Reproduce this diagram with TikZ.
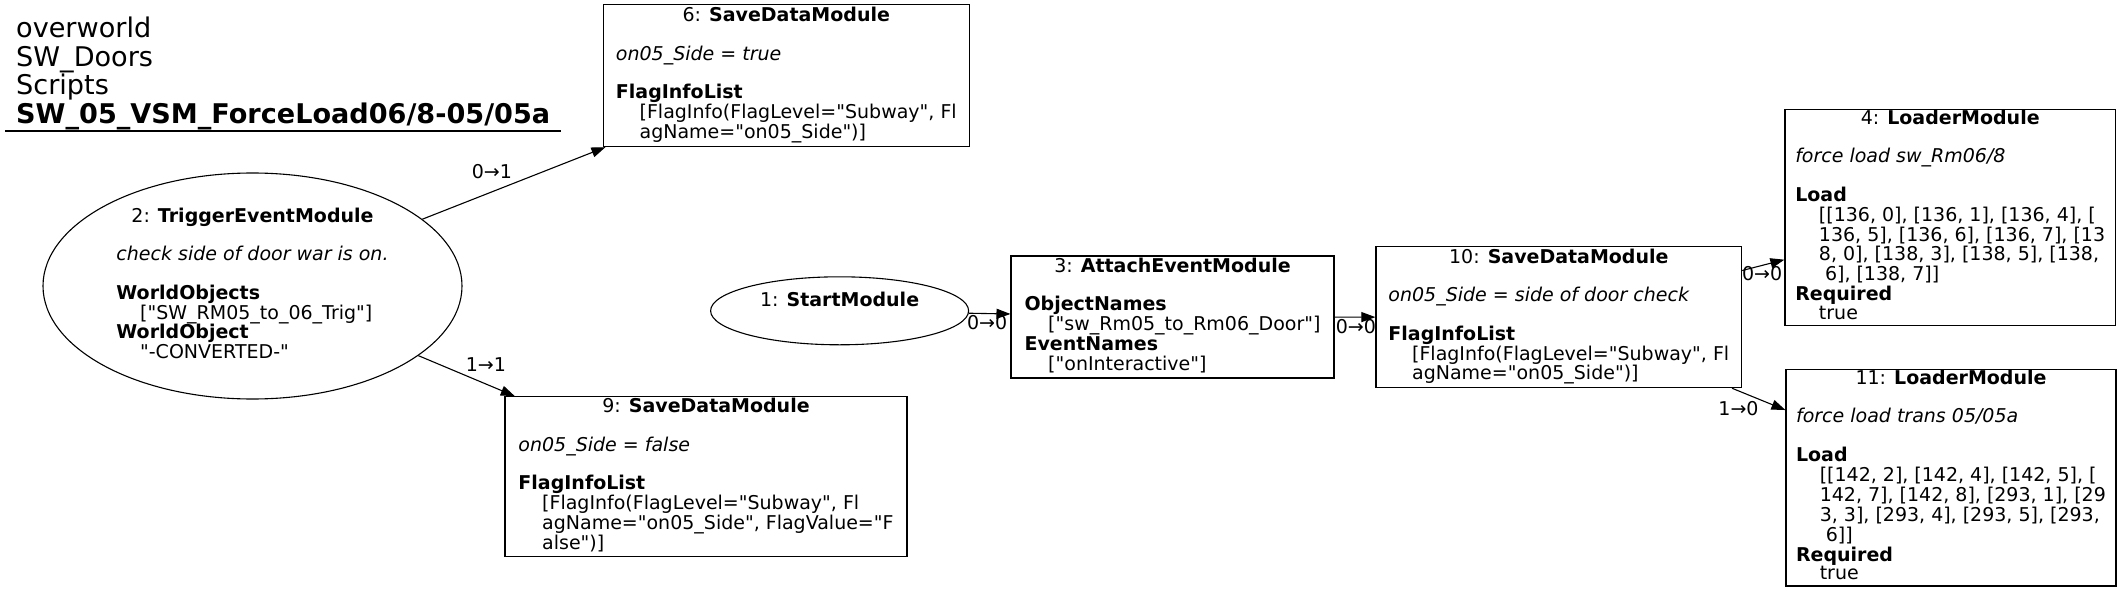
\documentclass[tikz,border=0pt]{standalone}
\usepackage{fontspec}
\setmainfont{DejaVu Sans}[Ligatures=TeXOff]
\usetikzlibrary{arrows.meta,shapes.geometric}
\newcommand{\ind}{\hspace*{23.7pt}}

\begin{document}
\begin{tikzpicture}[x=1pt, y=-1pt,
    every node/.style={font=\fontsize{19}{18.4}\selectfont},
    modbox/.style={draw, rectangle, line width=1.1pt, inner sep=0pt},
    modoval/.style={draw, ellipse, line width=1.1pt, inner sep=0pt},
    link/.style={-{Triangle[length=14pt,width=10pt]}, line width=1.1pt},
    lbl/.style={inner sep=0pt}]
    \useasboundingbox (0,0) rectangle (2119,591);

    % Title
    \node[anchor=base west, inner sep=0pt, font=\fontsize{27.1}{26.7}\selectfont] (T) at (16,38)
        {\begin{tabular}[t]{@{}l@{}}overworld\\ SW\_Doors\\ Scripts\\ \textbf{SW\_05\_VSM\_ForceLoad06/8-05/05a}\end{tabular}};
    \draw[line width=1.1pt] (5,131) -- (561,131);

    % Define node positions
    \node[modbox, minimum width=366pt, minimum height=141.7pt] (M6) at (786.3,75.8)
        {\begin{tabular}{@{}l@{}}\multicolumn{1}{@{}c@{}}{6: \textbf{SaveDataModule}}\\ \\
        \textit{on05\_Side = true}\\ \\
        \textbf{FlagInfoList}\\
        \ind[FlagInfo(FlagLevel="Subway", Fl\\
        \ind agName="on05\_Side")]\end{tabular}};
    \node[modoval, minimum width=419pt, minimum height=226pt] (M2) at (252.5,286)
        {\begin{tabular}{@{}l@{}}\multicolumn{1}{@{}c@{}}{2: \textbf{TriggerEventModule}}\\ \\
        \textit{check side of door war is on.}\\ \\
        \textbf{WorldObjects}\\
        \ind["SW\_RM05\_to\_06\_Trig"]\\
        \textbf{WorldObject}\\
        \ind"-CONVERTED-"\end{tabular}};
    \node[modbox, minimum width=402pt, minimum height=160pt] (M9) at (706,476.7)
        {\begin{tabular}{@{}l@{}}\multicolumn{1}{@{}c@{}}{9: \textbf{SaveDataModule}}\\ \\
        \textit{on05\_Side = false}\\ \\
        \textbf{FlagInfoList}\\
        \ind[FlagInfo(FlagLevel="Subway", Fl\\
        \ind agName="on05\_Side", FlagValue="F\\
        \ind alse")]\end{tabular}};
    \node[modoval, minimum width=258pt, minimum height=68pt] (M1) at (839.6,310.8)
        {\begin{tabular}{@{}c@{}}1: \textbf{StartModule}\\ \mbox{}\end{tabular}};
    \node[modbox, minimum width=323pt, minimum height=122pt] (M3) at (1172.5,317)
        {\begin{tabular}{@{}l@{}}\multicolumn{1}{@{}c@{}}{3: \textbf{AttachEventModule}}\\ \\
        \textbf{ObjectNames}\\
        \ind["sw\_Rm05\_to\_Rm06\_Door"]\\
        \textbf{EventNames}\\
        \ind["onInteractive"]\end{tabular}};
    \node[modbox, minimum width=365.7pt, minimum height=141pt] (M10) at (1558.8,317.2)
        {\begin{tabular}{@{}l@{}}\multicolumn{1}{@{}c@{}}{10: \textbf{SaveDataModule}}\\ \\
        \textit{on05\_Side = side of door check}\\ \\
        \textbf{FlagInfoList}\\
        \ind[FlagInfo(FlagLevel="Subway", Fl\\
        \ind agName="on05\_Side")]\end{tabular}};
    \node[modbox, minimum width=330.5pt, minimum height=216.4pt] (M4) at (1950.2,217.6)
        {\begin{tabular}{@{}l@{}}\multicolumn{1}{@{}c@{}}{4: \textbf{LoaderModule}}\\ \\
        \textit{force load sw\_Rm06/8}\\ \\
        \textbf{Load}\\
        \ind[[136, 0], [136, 1], [136, 4], [\\
        \ind 136, 5], [136, 6], [136, 7], [13\\
        \ind 8, 0], [138, 3], [138, 5], [138,\\
        \ind\ 6], [138, 7]]\\
        \textbf{Required}\\
        \ind true\end{tabular}};
    \node[modbox, minimum width=330pt, minimum height=216.4pt] (M11) at (1951,477.8)
        {\begin{tabular}{@{}l@{}}\multicolumn{1}{@{}c@{}}{11: \textbf{LoaderModule}}\\ \\
        \textit{force load trans 05/05a}\\ \\
        \textbf{Load}\\
        \ind[[142, 2], [142, 4], [142, 5], [\\
        \ind 142, 7], [142, 8], [293, 1], [29\\
        \ind 3, 3], [293, 4], [293, 5], [293,\\
        \ind\ 6]]\\
        \textbf{Required}\\
        \ind true\end{tabular}};

    % Draw arrows
    \draw[link] (M2) -- (M6) node[lbl, pos=0.38, yshift=19.8pt] (L26) {0→1};
    \draw[link] (M2) -- (M9) node[lbl, pos=0.7, yshift=19pt] (L29) {1→1};
    \draw[link] (M1) -- (M3) node[lbl, pos=0.44, yshift=-9pt] (L13) {0→0};
    \draw[link] (M3) -- (M10) node[lbl, pos=0.52, yshift=-9.6pt] (L310) {0→0};
    \draw[link] (M10) -- (M4) node[lbl, pos=0.47, yshift=-8.6pt] (L104) {0→0};
    \draw[link] (M10) -- (M11) node[lbl, pos=0.12, yshift=-17.6pt] (L1011) {1→0};
\end{tikzpicture}
\end{document}
